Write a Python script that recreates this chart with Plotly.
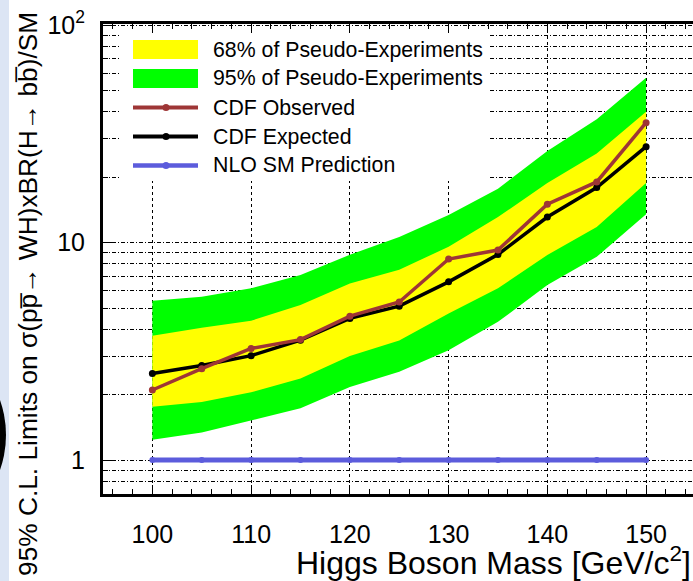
import plotly.graph_objects as go

# ---------------- data ----------------
mass = [100, 105, 110, 115, 120, 125, 130, 135, 140, 145, 150]
observed = [2.10, 2.63, 3.26, 3.58, 4.59, 5.33, 8.4, 9.24, 15.0, 19.0, 35.6]
expected = [2.50, 2.72, 3.02, 3.56, 4.48, 5.10, 6.6, 8.82, 13.1, 17.9, 27.6]
band95_hi = [5.40, 5.63, 6.16, 7.09, 8.8, 10.6, 13.4, 17.7, 26.4, 36.9, 57.3]
band68_hi = [3.73, 4.06, 4.37, 5.16, 6.49, 7.5, 9.57, 13.1, 18.8, 25.7, 39.9]
band68_lo = [1.76, 1.85, 2.05, 2.37, 3.01, 3.55, 4.72, 6.16, 8.76, 11.8, 18.8]
band95_lo = [1.24, 1.34, 1.52, 1.73, 2.17, 2.55, 3.20, 4.32, 6.38, 8.6, 13.5]
sm_pred = [1, 1, 1, 1, 1, 1, 1, 1, 1, 1, 1]

y_tickvals = [1, 10, 100]
y_ticktext = ["1", "10", "10<sup>2</sup>"]
y_minor_vals = [0.7, 0.8, 0.9, 2, 3, 4, 5, 6, 7, 8, 9, 20, 30, 40, 50, 60, 70, 80, 90]

legend_labels = ["68% of Pseudo-Experiments", "95% of Pseudo-Experiments",
                 "CDF Observed", "CDF Expected", "NLO SM Prediction"]

x_title = "Higgs Boson Mass [GeV/c<sup>2</sup>]"
y_title = "95% C.L. Limits on \u03c3(pp\u0305\u2192 WH)xBR(H\u2192 bb\u0305)/SM"

# ---------------- styling ----------------
FONT = "Liberation Sans, Arial, sans-serif"
YELLOW = "#ffff00"
GREEN = "#00ff00"
RED = "#9e3636"
BLACK = "#000000"
BLUE = "#5c5cdc"

W, H = 693, 581
L, T, B, R = 103, 24, 87, 0
PW, PH = W - L - R, H - T - B


def px(x):
    return (x - L) / PW


def py(y):
    return (H - B - y) / PH


fig = go.Figure()

# bands
fig.add_trace(go.Scatter(
    x=mass + mass[::-1], y=band95_hi + band95_lo[::-1],
    fill="toself", fillcolor=GREEN, line=dict(width=0), mode="lines",
    hoverinfo="skip", showlegend=False))
fig.add_trace(go.Scatter(
    x=mass + mass[::-1], y=band68_hi + band68_lo[::-1],
    fill="toself", fillcolor=YELLOW, line=dict(width=0), mode="lines",
    hoverinfo="skip", showlegend=False))

# lines
fig.add_trace(go.Scatter(x=mass, y=sm_pred, mode="lines+markers",
                         line=dict(color=BLUE, width=5),
                         marker=dict(color=BLUE, size=6), showlegend=False))
fig.add_trace(go.Scatter(x=mass, y=expected, mode="lines+markers",
                         line=dict(color=BLACK, width=3.5),
                         marker=dict(color=BLACK, size=7), showlegend=False))
fig.add_trace(go.Scatter(x=mass, y=observed, mode="lines+markers",
                         line=dict(color=RED, width=3.5),
                         marker=dict(color=RED, size=7), showlegend=False))

shapes = []
annotations = []

# slide decoration at far left
shapes.append(dict(type="rect", xref="paper", yref="paper",
                   x0=px(0), x1=px(9), y0=py(H), y1=py(0),
                   fillcolor="#dce5f4", line=dict(width=0), layer="above"))
shapes.append(dict(type="circle", xref="paper", yref="paper",
                   x0=px(-204), x1=px(6), y0=py(540), y1=py(330),
                   fillcolor="black", line=dict(width=0), layer="above"))

# legend background (hides grid lines behind the legend)
shapes.append(dict(type="rect", xref="paper", yref="paper",
                   x0=px(119), x1=px(490), y0=py(181), y1=py(33.5),
                   fillcolor="white", line=dict(width=0), layer="above"))

row_y = [49.5, 78.5, 107.5, 136.5, 165.5]
# legend symbols
shapes.append(dict(type="rect", xref="paper", yref="paper",
                   x0=px(133), x1=px(198), y0=py(row_y[0] + 9.5), y1=py(row_y[0] - 9.5),
                   fillcolor=YELLOW, line=dict(width=0), layer="above"))
shapes.append(dict(type="rect", xref="paper", yref="paper",
                   x0=px(133), x1=px(198), y0=py(row_y[1] + 9.5), y1=py(row_y[1] - 9.5),
                   fillcolor=GREEN, line=dict(width=0), layer="above"))
for yy, col, w in [(row_y[2], RED, 4), (row_y[3], BLACK, 4), (row_y[4], BLUE, 4.5)]:
    shapes.append(dict(type="line", xref="paper", yref="paper",
                       x0=px(133), x1=px(198), y0=py(yy), y1=py(yy),
                       line=dict(color=col, width=w), layer="above"))
    shapes.append(dict(type="circle", xref="paper", yref="paper",
                       x0=px(162.5), x1=px(169.5), y0=py(yy + 3.5), y1=py(yy - 3.5),
                       fillcolor=col, line=dict(width=0), layer="above"))

for yy, lab in zip(row_y, legend_labels):
    annotations.append(dict(xref="paper", yref="paper", x=px(211), y=py(yy),
                            xanchor="left", yanchor="middle", showarrow=False,
                            text=lab, font=dict(family=FONT, size=21.3, color="black")))

# axis titles
annotations.append(dict(xref="paper", yref="paper", x=px(693), y=py(561),
                        xanchor="right", yanchor="middle", showarrow=False,
                        text=x_title, font=dict(family=FONT, size=32, color="black")))
annotations.append(dict(xref="paper", yref="paper", x=px(28), y=py(294),
                        xanchor="center", yanchor="middle", showarrow=False,
                        textangle=-90, text=y_title,
                        font=dict(family=FONT, size=26.3, color="black")))

GRID_Y = "4px,2px,1px,2px"
GRID_X = "3px,3px"

fig.update_layout(
    width=W, height=H,
    margin=dict(l=L, r=R, t=T, b=B, pad=0),
    paper_bgcolor="white", plot_bgcolor="white",
    showlegend=False,
    shapes=shapes, annotations=annotations,
    xaxis=dict(
        range=[95, 154.75], tickmode="linear", tick0=100, dtick=10,
        ticks="inside", ticklen=9, tickwidth=1, tickcolor="black",
        showline=True, linewidth=3, linecolor="black", mirror="allticks",
        showgrid=True, gridcolor="black", gridwidth=1, griddash=GRID_X,
        zeroline=False,
        tickfont=dict(family=FONT, size=25, color="black"),
        ticklabelstandoff=16,
        minor=dict(dtick=2, tick0=100, ticks="inside", ticklen=5,
                   tickcolor="black", tickwidth=1, showgrid=False),
    ),
    yaxis=dict(
        type="log", range=[-0.156, 2.005],
        tickmode="array", tickvals=y_tickvals, ticktext=y_ticktext,
        ticks="inside", ticklen=9, tickwidth=1, tickcolor="black",
        showline=True, linewidth=3, linecolor="black", mirror=False,
        showgrid=True, gridcolor="black", gridwidth=1, griddash=GRID_Y,
        zeroline=False,
        tickfont=dict(family=FONT, size=25, color="black"),
        ticklabelstandoff=10,
        minor=dict(tickmode="array", tickvals=y_minor_vals, ticks="inside",
                   ticklen=5, tickcolor="black", tickwidth=1,
                   showgrid=True, gridcolor="black", gridwidth=1, griddash=GRID_Y),
    ),
)

fig.write_html("out.html")
